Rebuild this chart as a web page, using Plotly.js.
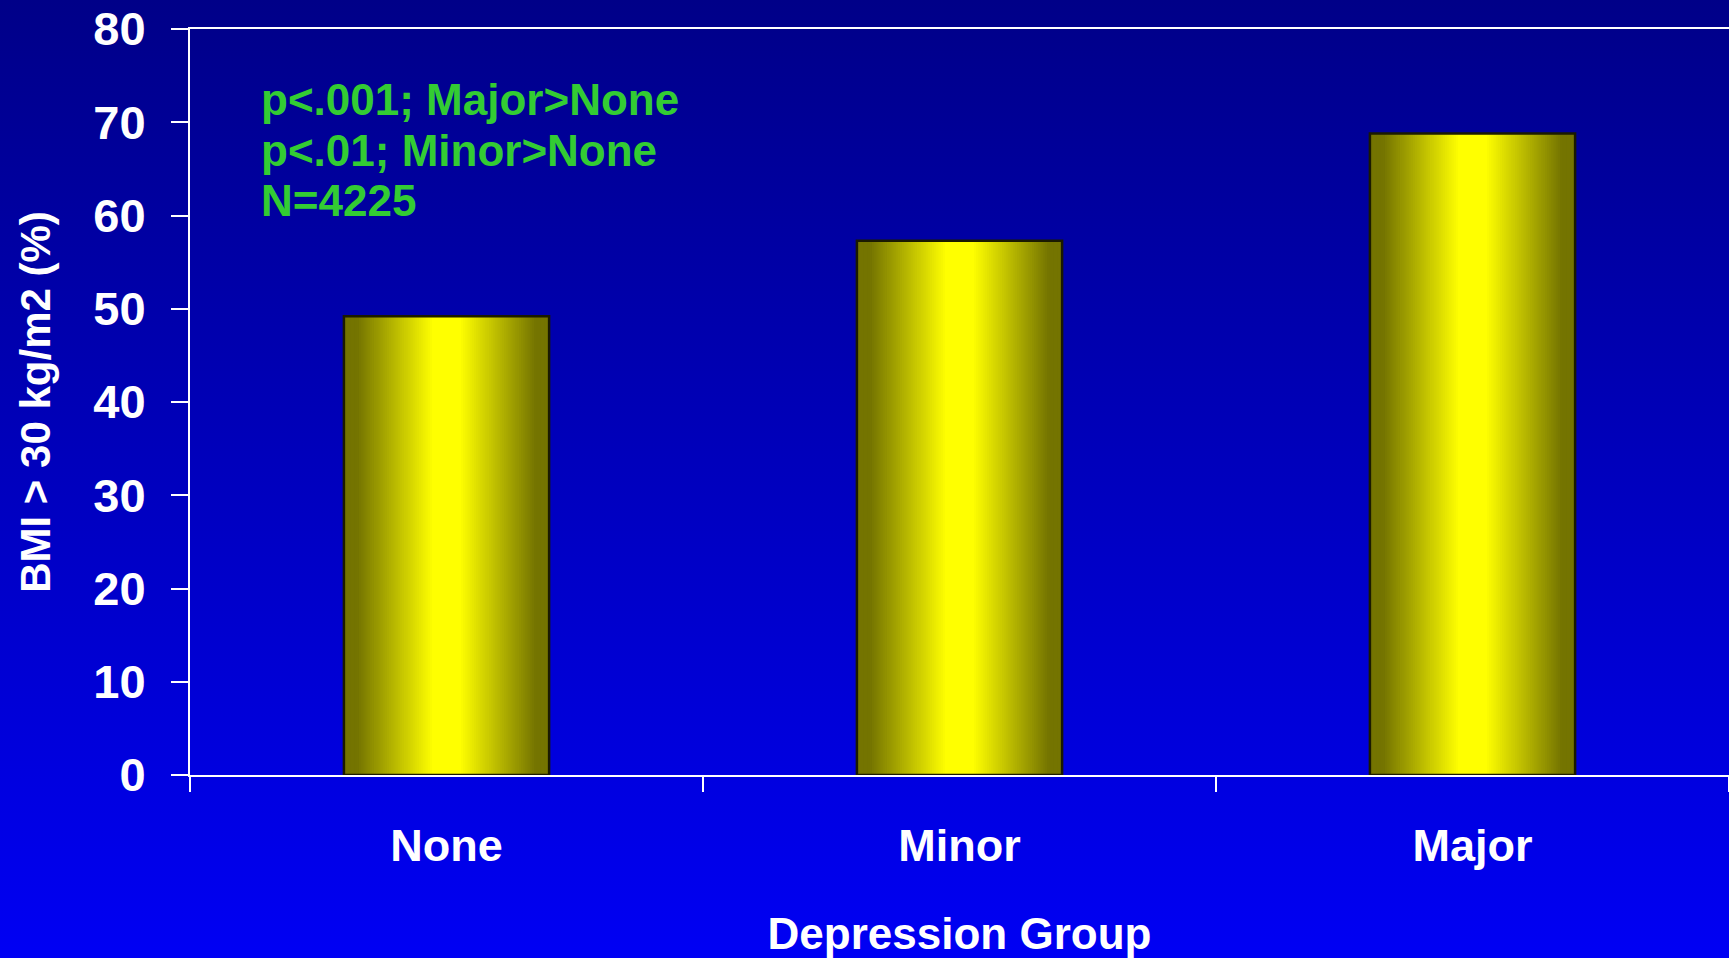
<!DOCTYPE html>
<html>
<head>
<meta charset="utf-8">
<script src="https://cdn.plot.ly/plotly-3.0.1.min.js"></script>
<style>
  html, body { margin: 0; padding: 0; }
  body { width: 1729px; height: 958px; overflow: hidden;
         background: linear-gradient(to bottom, #000088 0%, #0000f4 100%); }
  #chart { width: 1729px; height: 958px; }
</style>
</head>
<body>
<div id="chart"></div>
<script>
// ---- data ----
const categories = ['None', 'Minor', 'Major'];
const bmiPct = [49.2, 57.3, 68.8];
const yTickVals = [0, 10, 20, 30, 40, 50, 60, 70, 80];
const noteLines = ['p<.001; Major>None', 'p<.01; Minor>None', 'N=4225'];
const xTitle = 'Depression Group';
const yTitle = 'BMI > 30 kg/m2 (%)';

// ---- style ----
const FONT = '"Liberation Sans", Arial, Helvetica, sans-serif';
const BAR_W = 0.40;
const traces = [];
const N = 44;
for (let k = 0; k < N; k++) {
  const h = 1 - k * (1 - 0.10) / (N - 1);      // half-width fraction
  let b;
  if (h >= 0.88) b = 116;
  else if (h <= 0.14) b = 255;
  else b = 255 - (h - 0.14) / (0.88 - 0.14) * (255 - 116);
  b = Math.round(b);
  traces.push({
    type: 'bar', x: categories, y: bmiPct,
    width: categories.map(() => BAR_W * h),
    marker: { color: `rgb(${b},${b},0)`, line: { width: 0 } },
    hoverinfo: 'skip', showlegend: false
  });
}
// outline
traces.push({
  type: 'bar', x: categories, y: bmiPct,
  width: categories.map(() => BAR_W),
  marker: { color: 'rgba(0,0,0,0)', line: { color: '#1a1a00', width: 2.5 } },
  name: 'BMI > 30 kg/m2 (%)', showlegend: false
});

const annotations = noteLines.map((t, i) => ({
  text: t, xref: 'paper', yref: 'paper',
  x: (259 - 190) / 1539, y: 0.905 - i * 0.0672,
  xanchor: 'left', yanchor: 'middle', showarrow: false,
  font: { family: FONT, size: 44, color: '#33cc33', weight: 700 }
}));

const layout = {
  width: 1729, height: 958,
  margin: { l: 190, r: 0, t: 29, b: 183 },
  paper_bgcolor: 'rgba(0,0,0,0)', plot_bgcolor: 'rgba(0,0,0,0)',
  barmode: 'overlay', showlegend: false,
  xaxis: {
    type: 'category', showline: true, linecolor: '#ffffff', linewidth: 2, mirror: true,
    ticks: 'outside', tickson: 'boundaries', ticklen: 15, tickwidth: 2, tickcolor: '#ffffff',
    showgrid: false, zeroline: false, ticklabelstandoff: 30,
    tickfont: { family: FONT, size: 45, color: '#ffffff', weight: 700 },
    title: { text: xTitle, standoff: 50,
             font: { family: FONT, size: 44, color: '#ffffff', weight: 700 } }
  },
  yaxis: {
    range: [0, 80], tickvals: yTickVals, ticktext: yTickVals.map(String),
    showline: true, linecolor: '#ffffff', linewidth: 2,
    ticks: 'outside', ticklen: 17, tickwidth: 2, tickcolor: '#ffffff',
    showgrid: false, zeroline: false, ticklabelstandoff: 16,
    tickfont: { family: FONT, size: 47, color: '#ffffff', weight: 700 },
    title: { text: yTitle, standoff: 30,
             font: { family: FONT, size: 42, color: '#ffffff', weight: 700 } }
  },
  annotations: annotations
};

Plotly.newPlot('chart', traces, layout, { staticPlot: true, displayModeBar: false });
</script>
</body>
</html>
